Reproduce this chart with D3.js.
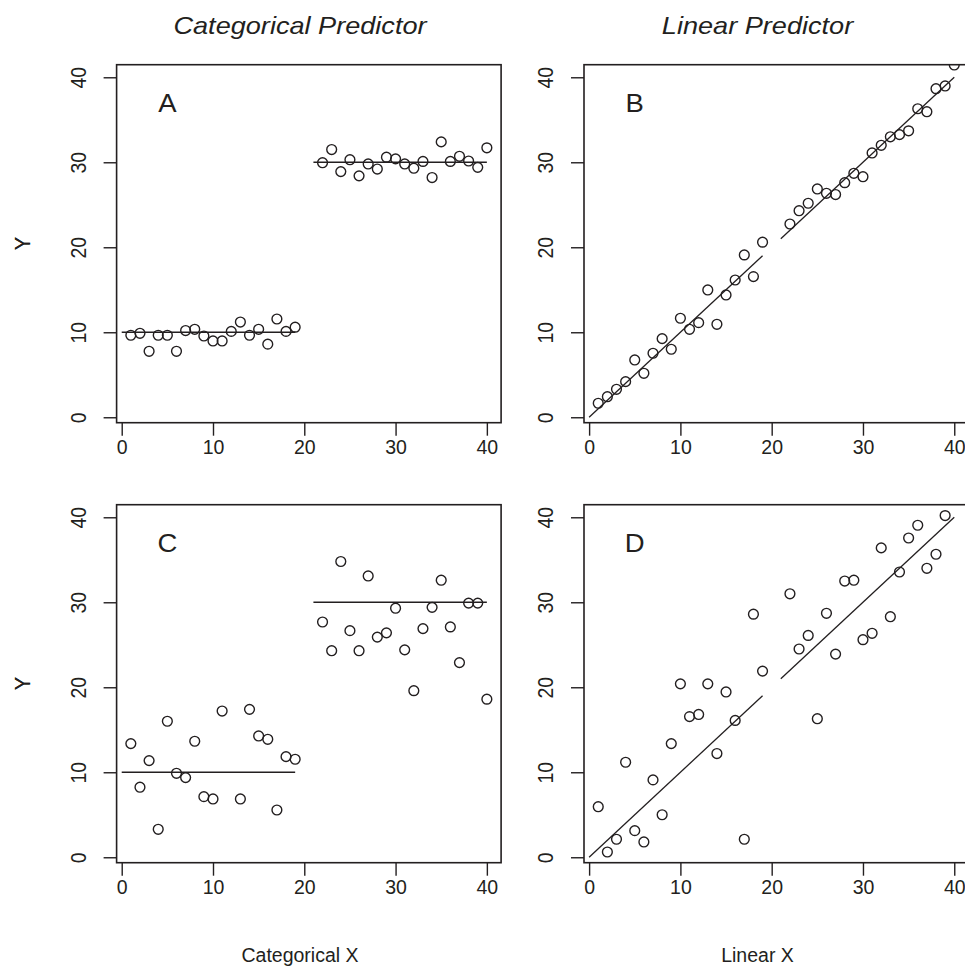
<!DOCTYPE html>
<html>
<head>
<meta charset="utf-8">
<script src="https://cdn.jsdelivr.net/npm/d3@7"></script>
<style>
  body { margin: 0; background: #fff; }
  svg { display: block; font-family: "Liberation Sans", Arial, sans-serif; }
</style>
</head>
<body>
<div id="chart"></div>
<script>
// x positions of the observations (no point at 20 and 21)
const xFull = [1, 2, 3, 4, 5, 6, 7, 8, 9, 10, 11, 12, 13, 14, 15, 16, 17, 18, 19,
               22, 23, 24, 25, 26, 27, 28, 29, 30, 31, 32, 33, 34, 35, 36, 37, 38, 39, 40];
const xNo12 = [1, 2, 3, 4, 5, 6, 7, 8, 9, 10, 11, 13, 14, 15, 16, 17, 18, 19,
               22, 23, 24, 25, 26, 27, 28, 29, 30, 31, 32, 33, 34, 35, 36, 37, 38, 39, 40];
const xNo40 = [1, 2, 3, 4, 5, 6, 7, 8, 9, 10, 11, 12, 13, 14, 15, 16, 17, 18, 19,
               22, 23, 24, 25, 26, 27, 28, 29, 30, 31, 32, 33, 34, 35, 36, 37, 38, 39];

const yA = [9.65, 9.88, 7.76, 9.65, 9.65, 7.76, 10.2, 10.35, 9.56, 8.98, 8.98, 10.1, 11.2, 9.65, 10.35, 8.6, 11.56, 10.1, 10.6,
            29.95, 31.5, 28.9, 30.3, 28.4, 29.8, 29.2, 30.6, 30.4, 29.8, 29.3, 30.1, 28.2, 32.4, 30.1, 30.7, 30.15, 29.4, 31.7];
const yB = [1.65, 2.42, 3.29, 4.19, 6.74, 5.17, 7.53, 9.25, 8.0, 11.65, 10.35, 11.13, 14.98, 10.94, 14.39, 16.15, 19.1, 16.55, 20.6,
            22.74, 24.3, 25.18, 26.86, 26.35, 26.2, 27.6, 28.7, 28.3, 31.1, 32.0, 33.0, 33.25, 33.7, 36.3, 35.95, 38.66, 38.98, 41.45];
const yC = [13.37, 8.24, 11.37, 3.29, 16.0, 9.88, 9.37, 13.65, 7.13, 6.86, 17.2, 6.86, 17.4, 14.27, 13.88, 5.56, 11.84, 11.53,
            27.68, 24.3, 34.8, 26.66, 24.3, 33.1, 25.9, 26.4, 29.3, 24.4, 19.6, 26.9, 29.4, 32.6, 27.1, 22.9, 29.9, 29.9, 18.6];
const yD = [5.95, 0.62, 2.12, 11.18, 3.13, 1.8, 9.1, 5.0, 13.37, 20.4, 16.55, 16.8, 20.4, 12.2, 19.45, 16.1, 2.12, 28.6, 21.9,
            31.0, 24.5, 26.1, 16.3, 28.7, 23.9, 32.5, 32.6, 25.6, 26.35, 36.4, 28.3, 33.56, 37.56, 39.06, 34.0, 35.65, 40.2];

// fitted segments
const segX = [[0, 19], [21, 40]];
const catMeans = [10, 30];

const tickVals = [0, 10, 20, 30, 40];
const panelLetters = ["A", "B", "C", "D"];
const colTitles = ["Categorical Predictor", "Linear Predictor"];
const xTitles = ["Categorical X", "Linear X"];
const yTitle = "Y";

const width = 965, height = 970;
const ink = "#231f20";

const colLeft = [116.6, 584];
const rowTop = [64.7, 504.7];
const pw = 384.5, ph = 358;

const svg = d3.select("#chart").append("svg")
  .attr("width", width)
  .attr("height", height);

const panels = [
  { xs: xFull, ys: yA, kind: "cat", col: 0, row: 0 },
  { xs: xFull, ys: yB, kind: "lin", col: 1, row: 0 },
  { xs: xNo12, ys: yC, kind: "cat", col: 0, row: 1 },
  { xs: xNo40, ys: yD, kind: "lin", col: 1, row: 1 }
];

function place(sel, x, y, rot, sx) {
  return sel.attr("transform", `translate(${x},${y})` + (sx ? ` scale(${sx},1)` : "") + (rot ? ` rotate(${rot})` : ""));
}

panels.forEach((p, i) => {
  const left = colLeft[p.col], top = rowTop[p.row];
  const x = d3.scaleLinear().domain([-0.56, 41.56]).range([left, left + pw]);
  const y = d3.scaleLinear().domain([-0.64, 41.48]).range([top + ph, top]);

  const g = svg.append("g");

  const clipId = "clip" + i;
  svg.append("clipPath").attr("id", clipId)
    .append("rect").attr("x", left).attr("y", top).attr("width", pw).attr("height", ph);

  const inner = g.append("g").attr("clip-path", `url(#${clipId})`);

  segX.forEach((s, k) => {
    const y0 = p.kind === "cat" ? catMeans[k] : s[0];
    const y1 = p.kind === "cat" ? catMeans[k] : s[1];
    inner.append("line")
      .attr("x1", x(s[0])).attr("x2", x(s[1]))
      .attr("y1", y(y0)).attr("y2", y(y1))
      .attr("stroke", ink)
      .attr("stroke-width", 1.3);
  });

  inner.selectAll("circle.pt")
    .data(p.xs.map((d, j) => [d, p.ys[j]]))
    .enter()
    .append("circle")
    .attr("class", "pt")
    .attr("cx", d => x(d[0]))
    .attr("cy", d => y(d[1]))
    .attr("r", 4.9)
    .attr("fill", "none")
    .attr("stroke", ink)
    .attr("stroke-width", 1.4);

  // box
  g.append("rect")
    .attr("x", left).attr("y", top)
    .attr("width", pw).attr("height", ph)
    .attr("fill", "none")
    .attr("stroke", ink)
    .attr("stroke-width", 1.6);

  // x axis
  const xAxis = g.append("g")
    .attr("transform", `translate(0,${top + ph})`)
    .call(d3.axisBottom(x).tickValues(tickVals).tickSize(13).tickFormat(""));
  xAxis.select(".domain").remove();
  xAxis.selectAll(".tick line").attr("stroke", ink).attr("stroke-width", 1.4);
  xAxis.selectAll(".tick").append("text")
    .attr("fill", ink)
    .attr("font-size", 19.5)
    .attr("text-anchor", "middle")
    .attr("x", 0)
    .attr("y", 31)
    .text(d => d);

  // y axis
  const yAxis = g.append("g")
    .attr("transform", `translate(${left},0)`)
    .call(d3.axisLeft(y).tickValues(tickVals).tickSize(13).tickFormat(""));
  yAxis.select(".domain").remove();
  yAxis.selectAll(".tick line").attr("stroke", ink).attr("stroke-width", 1.4);
  yAxis.selectAll(".tick").append("text")
    .attr("fill", ink)
    .attr("font-size", 19.5)
    .attr("text-anchor", "middle")
    .text(d => d)
    .each(function () { place(d3.select(this), -31, 0, -90, 1.1); });

  // panel letter
  g.append("text")
    .attr("fill", ink)
    .attr("font-size", 25)
    .attr("text-anchor", "middle")
    .text(panelLetters[i])
    .call(place, x(5), y(37) + 9, 0, 1.1);

  // y title
  svg.append("text")
    .attr("fill", ink)
    .attr("font-size", 20)
    .attr("text-anchor", "middle")
    .text(yTitle)
    .call(place, 30, top + ph / 2, -90, 1.1);
});

// column titles
[300, 757.5].forEach((cx, k) => {
  svg.append("text")
    .attr("fill", ink)
    .attr("font-size", 24)
    .attr("font-style", "italic")
    .attr("text-anchor", "middle")
    .text(colTitles[k])
    .call(place, cx, 34, 0, 1.13);
});

// x titles
[300, 757.5].forEach((cx, k) => {
  svg.append("text")
    .attr("fill", ink)
    .attr("font-size", 19.5)
    .attr("text-anchor", "middle")
    .attr("x", cx)
    .attr("y", 962)
    .text(xTitles[k]);
});
</script>
</body>
</html>
